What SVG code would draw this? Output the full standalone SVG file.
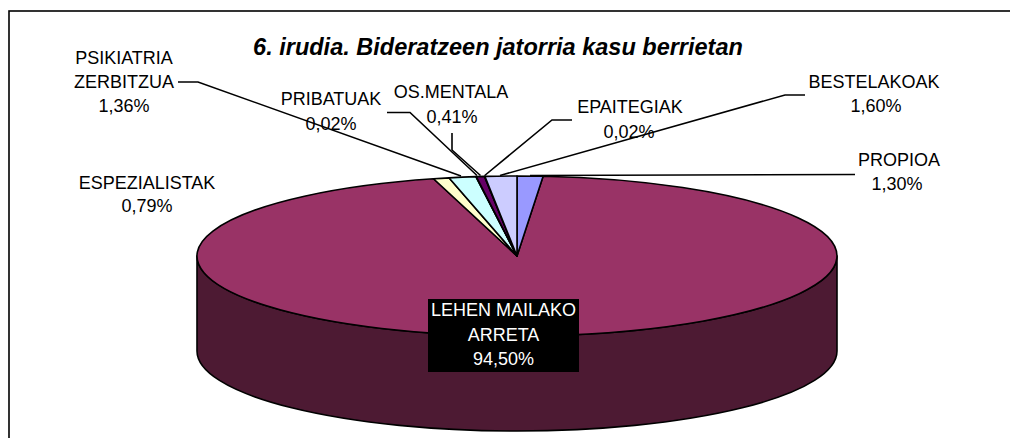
<svg xmlns="http://www.w3.org/2000/svg" width="1010" height="438" viewBox="0 0 1010 438">
  <style>
    .lbl { font-family: "Liberation Sans", Arial, sans-serif; font-size: 18px; fill: #000; text-anchor: middle; }
    .in { font-family: "Liberation Sans", Arial, sans-serif; font-size: 18px; fill: #fff; text-anchor: middle; }
    .title { font-family: "Liberation Sans", Arial, sans-serif; font-size: 23.5px; font-weight: bold; font-style: italic; fill: #000; text-anchor: middle; }
    .sl { stroke: #000; stroke-width: 1.6; stroke-linejoin: round; }
    .lead { fill: none; stroke: #000; stroke-width: 1.6; }
  </style>
  <rect x="0" y="0" width="1010" height="438" fill="#fff"/>
  <rect x="9" y="11" width="1010" height="440" fill="none" stroke="#000" stroke-width="1.6"/>
  <text class="title" x="498" y="55">6. irudia. Bideratzeen jatorria kasu berrietan</text>

  <g id="pie-side">
    <path class="sl" fill="#4D1A33" d="M197,256 L197,351 A320,80 0 0 0 837,351 L837,256 A320,80 0 0 1 197,256 Z"/>
  </g>

  <g id="slice-lehen-mailako-arreta">
    <path class="sl" fill="#993366" d="M517,256 L543.11,176.27 A320,80 0 1 1 433.52,178.77 Z"/>
  </g>
  <g id="slice-propioa">
    <path class="sl" fill="#9999FF" d="M517,256 L517,176 A320,80 0 0 1 543.11,176.27 Z"/>
  </g>
  <g id="slice-espezialistak">
    <path class="sl" fill="#FFFFCC" d="M517,256 L433.52,178.77 A320,80 0 0 1 448.96,177.83 Z"/>
  </g>
  <g id="slice-psikiatria">
    <path class="sl" fill="#CCFFFF" d="M517,256 L448.96,177.83 A320,80 0 0 1 475.90,176.66 Z"/>
  </g>
  <g id="slice-pribatuak">
    <path class="sl" fill="#FF8080" d="M517,256 L475.90,176.66 A320,80 0 0 1 476.30,176.65 Z"/>
  </g>
  <g id="slice-os-mentala">
    <path class="sl" fill="#660066" d="M517,256 L476.30,176.65 A320,80 0 0 1 484.48,176.41 Z"/>
  </g>
  <g id="slice-epaitegiak">
    <path class="sl" fill="#0066CC" d="M517,256 L484.48,176.41 A320,80 0 0 1 484.88,176.40 Z"/>
  </g>
  <g id="slice-bestelakoak">
    <path class="sl" fill="#CCCCFF" d="M517,256 L484.88,176.40 A320,80 0 0 1 517,176 Z"/>
  </g>

  <g id="connectors">
    <path class="lead" d="M178,82 H198 L461,176"/>
    <path class="lead" d="M387,112.5 H410 L477,175.5"/>
    <path class="lead" d="M452,133 V150 L480.5,175.5"/>
    <path class="lead" d="M572,120 H552 L484.7,175.5"/>
    <path class="lead" d="M805,95 H785 L500,175.5"/>
    <path class="lead" d="M530,175.5 L855,174.5"/>
  </g>

  <g id="label-psikiatria">
    <text class="lbl" x="124" y="64">PSIKIATRIA</text>
    <text class="lbl" x="124" y="88">ZERBITZUA</text>
    <text class="lbl" x="124" y="112">1,36%</text>
  </g>
  <g id="label-espezialistak">
    <text class="lbl" x="147" y="189">ESPEZIALISTAK</text>
    <text class="lbl" x="147" y="212">0,79%</text>
  </g>
  <g id="label-pribatuak">
    <text class="lbl" x="331" y="105">PRIBATUAK</text>
    <text class="lbl" x="331" y="130">0,02%</text>
  </g>
  <g id="label-os-mentala">
    <text class="lbl" x="451" y="98">OS.MENTALA</text>
    <text class="lbl" x="452" y="123">0,41%</text>
  </g>
  <g id="label-epaitegiak">
    <text class="lbl" x="630" y="113">EPAITEGIAK</text>
    <text class="lbl" x="629" y="138">0,02%</text>
  </g>
  <g id="label-bestelakoak">
    <text class="lbl" x="874" y="88">BESTELAKOAK</text>
    <text class="lbl" x="876" y="112">1,60%</text>
  </g>
  <g id="label-propioa">
    <text class="lbl" x="899" y="166">PROPIOA</text>
    <text class="lbl" x="897" y="190">1,30%</text>
  </g>
  <g id="label-lehen-mailako-arreta">
    <rect x="428" y="299" width="151" height="73" fill="#000"/>
    <text class="in" x="503.5" y="316">LEHEN MAILAKO</text>
    <text class="in" x="503.5" y="341">ARRETA</text>
    <text class="in" x="503.5" y="365">94,50%</text>
  </g>
</svg>
